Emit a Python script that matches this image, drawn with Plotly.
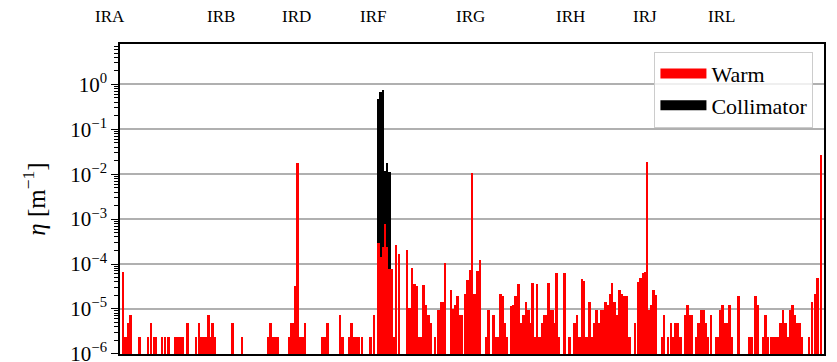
import plotly.graph_objects as go

# Loss positions along the ring, s [km], and local cleaning inefficiency eta [1/m]
warm_s = [
    0.04, 0.42, 0.70, 1.01, 2.21, 3.29, 3.72, 4.07, 4.37, 5.14, 5.50, 5.98,
    6.84, 7.15, 7.49, 7.83, 8.42, 9.57, 9.95, 10.26, 10.57, 10.87, 11.14,
    11.43, 11.69, 12.04, 14.27, 15.54, 18.99, 19.24, 19.62, 19.93, 20.20,
    21.62, 21.92, 22.18, 22.46, 22.78, 23.09, 23.37, 23.73,
    26.03, 26.34, 26.66, 28.28, 28.60, 29.51, 29.80, 30.08, 30.39, 30.72,
    31.11, 32.21, 32.71,
    33.25, 33.57, 33.87, 34.13, 34.39, 34.68,
    34.94, 35.22, 35.53, 35.92, 36.96, 37.28, 37.61, 37.93, 38.25, 38.56,
    38.84, 39.13, 39.46, 39.78, 40.04, 40.63, 41.07, 41.39, 41.65, 41.92,
    42.72, 43.03, 43.26, 43.55, 43.84, 44.15, 44.54, 44.84, 45.15, 45.42,
    45.76, 46.12, 46.48, 47.25, 47.58, 48.23, 48.56, 48.83, 49.11, 49.41,
    49.70, 49.99, 50.51, 50.79, 51.08, 51.47, 51.80, 52.13, 52.47, 52.79,
    53.07, 53.33, 53.59, 53.86, 54.21, 54.54, 54.83, 55.08, 55.35, 55.64,
    55.93, 56.16, 56.38, 56.68, 57.46, 58.11, 58.76, 59.09, 59.38, 59.71,
    59.96, 60.22, 60.45, 60.71, 61.01, 61.33, 61.62, 61.89, 62.21, 62.52,
    62.81, 63.07, 63.35, 63.64, 63.93, 64.26, 64.58, 64.91, 65.26, 65.59,
    65.88, 66.60, 66.99, 67.31, 67.64, 67.93, 68.19, 68.45, 68.72, 69.06,
    69.32, 70.14, 70.40, 70.93, 71.32, 71.60, 71.89, 72.22, 72.54, 73.16,
    73.45, 73.74, 74.05, 74.62, 74.91, 75.22, 75.55, 75.86, 76.12, 76.48,
    77.18, 77.45, 77.70, 77.99, 78.29, 78.60, 78.92, 79.20, 80.09, 81.46,
    81.77, 82.29, 82.62, 83.27, 83.56, 83.89, 84.31, 84.60, 84.92, 85.23,
    85.54, 85.87, 86.16, 86.45, 86.81, 87.10, 87.39, 87.68, 87.98, 88.27,
    89.26, 89.64, 90.00, 90.38, 90.82,
]
warm_eta = [
    6.5e-5, 2.4e-6, 4.8e-6, 7.2e-6, 2.4e-6, 2.4e-6, 4.8e-6, 2.4e-6, 2.4e-6, 2.4e-6, 2.4e-6, 2.4e-6,
    2.4e-6, 2.4e-6, 2.4e-6, 2.4e-6, 4.8e-6, 2.4e-6, 4.8e-6, 2.4e-6, 2.4e-6, 2.4e-6, 7.2e-6,
    2.4e-6, 4.8e-6, 2.4e-6, 4.8e-6, 2.4e-6, 2.4e-6, 4.8e-6, 2.4e-6, 2.4e-6, 2.4e-6,
    2.4e-6, 4.8e-6, 4.8e-6, 3.3e-5, 1.8e-2, 2.4e-6, 2.4e-6, 4.8e-6,
    2.4e-6, 2.4e-6, 4.8e-6, 7.2e-6, 2.4e-6, 2.4e-6, 4.8e-6, 2.4e-6, 2.4e-6, 2.4e-6,
    2.4e-6, 2.4e-6, 7.2e-6,
    2.9e-4, 1.4e-4, 2.4e-4, 7.6e-4, 2.4e-4, 7.9e-5,
    7.8e-5, 2.4e-6, 2.7e-4, 1.7e-4, 2.1e-4, 1.05e-5, 8.2e-5, 3.5e-5, 3.3e-5, 2.4e-6,
    2.4e-6, 3.4e-5, 1.2e-5, 7.2e-6, 4.8e-6, 2.4e-6, 9.6e-6, 1.4e-5, 1.4e-5, 1.03e-4,
    2.7e-5, 1.0e-5, 1.2e-5, 1.9e-5, 7.2e-6, 7.2e-6, 2.1e-5, 4.3e-5, 7.5e-5, 1.07e-2,
    2.1e-5, 6.9e-5, 1.24e-4, 2.4e-6, 9.6e-6, 7.2e-6, 2.4e-6, 2.4e-6, 2.1e-5, 1.9e-5,
    4.8e-6, 2.4e-6, 1.14e-5, 1.2e-5, 1.9e-5, 3.5e-5, 4.8e-6, 7.2e-6, 1.4e-5, 9.6e-6,
    4.8e-6, 3.7e-5, 2.4e-6, 3.6e-5, 2.4e-6, 4.8e-6, 7.2e-6, 7.2e-6, 3.8e-5, 9.6e-6,
    9.6e-6, 4.8e-6, 6.3e-5, 2.4e-6, 6.3e-5, 2.4e-6, 4.8e-6, 7.2e-6, 2.4e-6, 4.6e-5,
    4.2e-5, 2.4e-6, 2.4e-6, 1.4e-5, 2.4e-6, 4.8e-6, 9.6e-6, 4.8e-6, 9.6e-6, 9.6e-6,
    1.4e-5, 1.2e-5, 2.1e-5, 3.7e-5, 1.4e-5, 7.2e-6, 2.6e-5, 2.2e-5, 1.9e-5, 1.9e-5,
    2.4e-6, 4.8e-6, 3.9e-5, 5.0e-5, 6.3e-5, 6.6e-5, 1.9e-2, 9.6e-6, 1.2e-5, 2.7e-5,
    2.0e-5, 2.4e-6, 7.2e-6, 2.4e-6, 4.8e-6, 2.4e-6, 4.8e-6, 4.8e-6, 2.4e-6, 7.2e-6,
    1.2e-5, 7.2e-6, 7.2e-6, 2.4e-6, 4.8e-6, 9.6e-6, 9.6e-6, 4.8e-6, 2.4e-6, 7.2e-6,
    2.4e-6, 2.4e-6, 9.6e-6, 1.2e-5, 4.8e-6, 4.8e-6, 1.2e-5, 2.4e-6, 1.9e-5, 2.4e-6,
    2.4e-6, 1.9e-5, 1.2e-5, 2.4e-6, 7.2e-6, 2.4e-6, 2.4e-6, 2.4e-6, 2.4e-6, 2.4e-6,
    4.8e-6, 9.6e-6, 4.8e-6, 2.4e-6, 9.6e-6, 1.2e-5, 7.2e-6, 4.8e-6, 4.8e-6, 2.4e-6,
    2.4e-6, 1.4e-5, 2.2e-5, 4.9e-5, 2.7e-2,
]

# Collimator losses in the cleaning insertion
coll_s = [33.25, 33.57, 33.87, 34.13, 34.39, 34.68]
coll_eta = [0.47, 0.69, 0.75, 0.012, 0.018, 0.011]

# Insertion region names shown above the frame
ir_names = ["IRA", "IRB", "IRD", "IRF", "IRG", "IRH", "IRJ", "IRL"]
ir_label_x = [-0.0135, 0.1428, 0.2507, 0.3587, 0.4979, 0.6399, 0.7464, 0.8544]

# Decade tick labels
decades = [-6, -5, -4, -3, -2, -1, 0]
tick_vals = [10.0 ** d for d in decades]
tick_text = ["10<sup>" + ("−" if d < 0 else "") + str(abs(d)) + "</sup>" for d in decades]
minor_vals = [m * 10.0 ** d for d in decades for m in range(2, 10)]

SERIF = "Liberation Serif"
BAR_W = 0.34

fig = go.Figure()
fig.add_trace(go.Bar(x=coll_s, y=coll_eta, width=BAR_W, marker=dict(color="black", line=dict(width=0)),
                     showlegend=False, name="Collimator"))
fig.add_trace(go.Bar(x=warm_s, y=warm_eta, width=BAR_W, marker=dict(color="#ff0000", line=dict(width=0)),
                     showlegend=False, name="Warm"))

# Legend entries drawn as wide colour patches
fig.add_trace(go.Scatter(x=[None], y=[None], mode="lines", line=dict(color="#ff0000", width=16), name="Warm"))
fig.add_trace(go.Scatter(x=[None], y=[None], mode="lines", line=dict(color="black", width=16), name="Collimator"))

for name, xp in zip(ir_names, ir_label_x):
    fig.add_annotation(text=name, x=xp, y=1.0, xref="paper", yref="paper", xanchor="center",
                       yanchor="middle", yshift=27.5, showarrow=False,
                       font=dict(family=SERIF, size=17, color="black"))

fig.update_layout(
    width=837, height=362,
    margin=dict(l=120, r=13, t=44, b=8, autoexpand=False),
    paper_bgcolor="white", plot_bgcolor="white",
    barmode="overlay", bargap=0,
    xaxis=dict(range=[-0.325, 91.195], showticklabels=False, ticks="", showgrid=False, zeroline=False,
               showline=True, linecolor="black", linewidth=1.6, mirror=True, automargin=False),
    yaxis=dict(type="log", range=[-6.004, 0.9], tickmode="array", tickvals=tick_vals, ticktext=tick_text,
               ticks="outside", ticklen=7, tickwidth=1.3, tickcolor="black", ticklabeloverflow="allow",
               automargin=False,
               minor=dict(tickmode="array", tickvals=minor_vals, ticks="outside", ticklen=4,
                          tickwidth=1, tickcolor="black", showgrid=False),
               showgrid=True, gridcolor="#b0b0b0", gridwidth=1.5, zeroline=False,
               showline=True, linecolor="black", linewidth=1.6, mirror=True,
               tickfont=dict(family=SERIF, size=21, color="black"),
               title=dict(text="<i>η</i> [m<sup>−1</sup>]", standoff=18,
                          font=dict(family=SERIF, size=25, color="black"))),
    legend=dict(x=0.985, xanchor="right", y=0.975, yanchor="top", bgcolor="rgba(255,255,255,0.8)",
                bordercolor="#cccccc", borderwidth=1, itemwidth=46,
                font=dict(family=SERIF, size=22, color="black"), tracegroupgap=0),
)

fig.write_html("out.html")
